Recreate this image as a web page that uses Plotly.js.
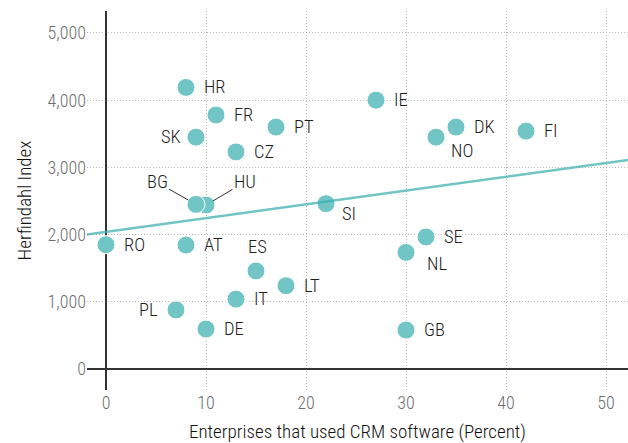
<!DOCTYPE html>
<html>
<head>
<meta charset="utf-8">
<script src="https://cdn.plot.ly/plotly-3.0.1.min.js"></script>
<style>
html,body{margin:0;padding:0;background:#fff;}
#chart{width:628px;height:443px;}
</style>
</head>
<body>
<div id="chart"></div>
<script>
// Data
const countries = ["HR","FR","SK","PT","CZ","HU","BG","IE","DK","NO","FI","SI","RO","AT","ES","LT","IT","PL","DE","SE","NL","GB"];
const crmPercent = [8, 11, 9, 17, 13, 10, 9, 27, 35, 33, 42, 22, 0, 8, 15, 18, 13, 7, 10, 32, 30, 30];
const herfindahl = [4190, 3780, 3450, 3600, 3230, 2440, 2450, 4000, 3600, 3450, 3540, 2460, 1850, 1845, 1460, 1240, 1040, 880, 595, 1965, 1735, 580];
const trendX = [-2, 53];
const trendY = [2000, 3125];
const xTicks = [0, 10, 20, 30, 40, 50];
const yTicks = [0, 1000, 2000, 3000, 4000, 5000];
const yTickText = ["0", "1,000", "2,000", "3,000", "4,000", "5,000"];

// Label placement (style, not data)
const labelPlace = {
  SK: {xanchor: "right", xshift: -13, yshift: 0},
  PL: {xanchor: "right", xshift: -16, yshift: 0},
  NO: {xanchor: "left", xshift: 13, yshift: -14},
  NL: {xanchor: "left", xshift: 19, yshift: -12},
  SI: {xanchor: "left", xshift: 14, yshift: -10},
  ES: {xanchor: "center", xshift: 1, yshift: 24}
};
const arrowPlace = {
  BG: {ax: -39, ay: -22, standoff: 9},
  HU: {ax: 39, ay: -23, standoff: 8}
};

const FONT = "'Roboto Condensed', 'Liberation Sans Narrow', 'DejaVu Sans Condensed', 'Arial Narrow', sans-serif";

const annotations = countries.map((c, i) => {
  const base = {x: crmPercent[i], y: herfindahl[i], xref: "x", yref: "y", text: c,
    font: {family: FONT, size: 18.5, color: "#1e1e1e", weight: 300}};
  if (arrowPlace[c]) {
    return Object.assign(base, {showarrow: true, arrowhead: 0, arrowwidth: 1, arrowcolor: "#333",
      ax: arrowPlace[c].ax, ay: arrowPlace[c].ay, standoff: arrowPlace[c].standoff});
  }
  const p = labelPlace[c] || {xanchor: "left", xshift: 16, yshift: 0};
  return Object.assign(base, {showarrow: false, xanchor: p.xanchor, yanchor: "middle", xshift: p.xshift, yshift: p.yshift});
});

const traces = [
  {
    x: crmPercent, y: herfindahl, type: "scatter", mode: "markers",
    marker: {size: 18, color: "#72c5c5", line: {color: "#ffffff", width: 1}},
    hoverinfo: "skip"
  },
  {
    x: trendX, y: trendY, type: "scatter", mode: "lines",
    line: {color: "rgba(64,176,176,0.75)", width: 2.5},
    hoverinfo: "skip"
  }
];

const layout = {
  width: 628, height: 443,
  margin: {l: 87, r: 0, t: 11, b: 53},
  paper_bgcolor: "#fff", plot_bgcolor: "#fff",
  showlegend: false,
  font: {family: FONT, color: "#222", weight: 300},
  xaxis: {
    range: [-1.9, 52.2], tickvals: xTicks, ticks: "",
    tickfont: {family: FONT, size: 18, color: "#6e6e6e", weight: 300},
    showgrid: true, gridcolor: "#bbb", griddash: "1px,2px", gridwidth: 1,
    zeroline: true, zerolinecolor: "#333", zerolinewidth: 2,
    showline: false,
    title: {text: "Enterprises that used CRM software (Percent)", font: {family: FONT, size: 19, color: "#111", weight: 300}, standoff: 12}
  },
  yaxis: {
    range: [-312, 5327], tickvals: yTicks, ticktext: yTickText, ticks: "",
    tickfont: {family: FONT, size: 18, color: "#6e6e6e", weight: 300},
    showgrid: true, gridcolor: "#bbb", griddash: "1px,2px", gridwidth: 1,
    zeroline: true, zerolinecolor: "#333", zerolinewidth: 2,
    showline: false,
    title: {text: "Herfindahl Index", font: {family: FONT, size: 19, color: "#111", weight: 300}, standoff: 10}
  },
  annotations: annotations
};

Plotly.newPlot("chart", traces, layout, {staticPlot: true, displayModeBar: false});
</script>
</body>
</html>
